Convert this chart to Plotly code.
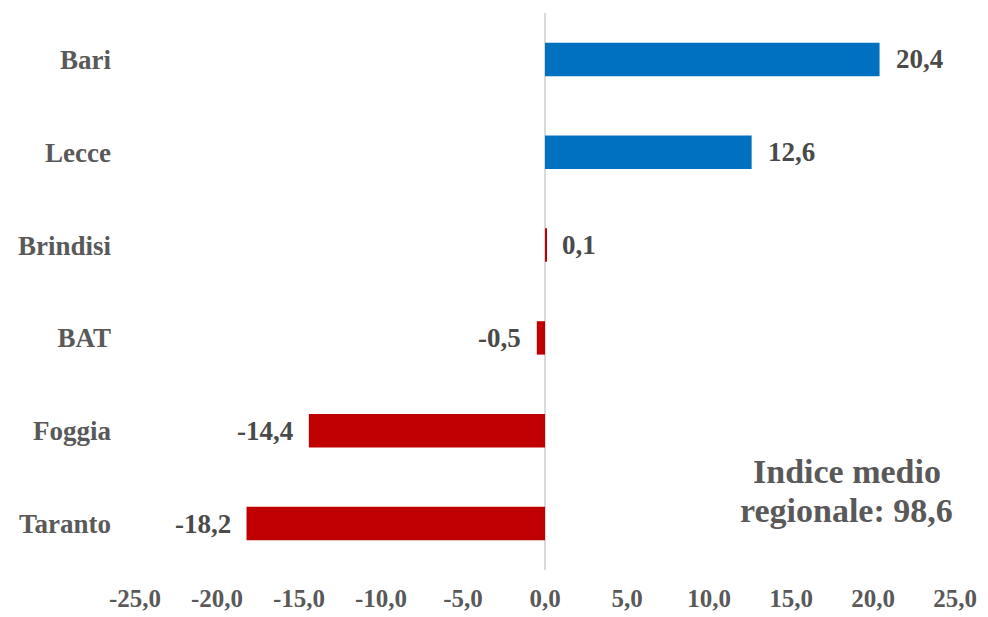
import plotly.graph_objects as go

provinces = ["Bari", "Lecce", "Brindisi", "BAT", "Foggia", "Taranto"]
values = [20.4, 12.6, 0.1, -0.5, -14.4, -18.2]
bar_colors = ["#0070C0", "#0070C0", "#C00000", "#C00000", "#C00000", "#C00000"]
tick_vals = [-25, -20, -15, -10, -5, 0, 5, 10, 15, 20, 25]
tick_text = ["-25,0", "-20,0", "-15,0", "-10,0", "-5,0", "0,0", "5,0", "10,0", "15,0", "20,0", "25,0"]
note_lines = ["Indice medio", "regionale: 98,6"]

def fmt(v):
    return f"{v:.1f}".replace(".", ",")

FONT = "Liberation Serif"
GREY = "#595959"

fig = go.Figure()
fig.add_trace(go.Bar(
    y=provinces, x=values, orientation="h",
    marker=dict(color=bar_colors, line=dict(width=0)),
    width=0.36, hoverinfo="skip",
))

for p, v in zip(provinces, values):
    fig.add_annotation(
        x=v, y=p, xref="x", yref="y",
        text="<b>" + fmt(v) + "</b>", showarrow=False,
        xanchor="left" if v >= 0 else "right",
        xshift=14 if v > 0.5 else (13 if v >= 0 else -14),
        font=dict(family=FONT, size=27, color="#4A4A4A"),
    )

for line, yp in zip(note_lines, [0.177, 0.106]):
    fig.add_annotation(
        x=0.868, y=yp, xref="paper", yref="paper",
        text="<b>" + line + "</b>", showarrow=False,
        xanchor="center", yanchor="middle",
        font=dict(family=FONT, size=34, color=GREY),
    )

fig.update_layout(
    width=980, height=609,
    margin=dict(l=127, r=33, t=5, b=47),
    paper_bgcolor="white", plot_bgcolor="white",
    showlegend=False,
    xaxis=dict(
        range=[-25, 25], tickvals=tick_vals, ticktext=["<b>" + t + "</b>" for t in tick_text],
        showgrid=False, zeroline=True, zerolinecolor="#D9D9D9", zerolinewidth=2,
        showline=False, ticks="", ticklabelstandoff=11, automargin=False,
        tickfont=dict(family=FONT, size=25, color=GREY),
    ),
    yaxis=dict(
        categoryorder="array", categoryarray=provinces[::-1],
        showgrid=False, zeroline=False, showline=False, ticks="",
        ticklabelstandoff=23, automargin=False,
        tickfont=dict(family=FONT, size=27, color=GREY),
        tickprefix="<b>", ticksuffix="</b>",
    ),
    font=dict(family=FONT, color=GREY),
)

fig.write_html("out.html")
